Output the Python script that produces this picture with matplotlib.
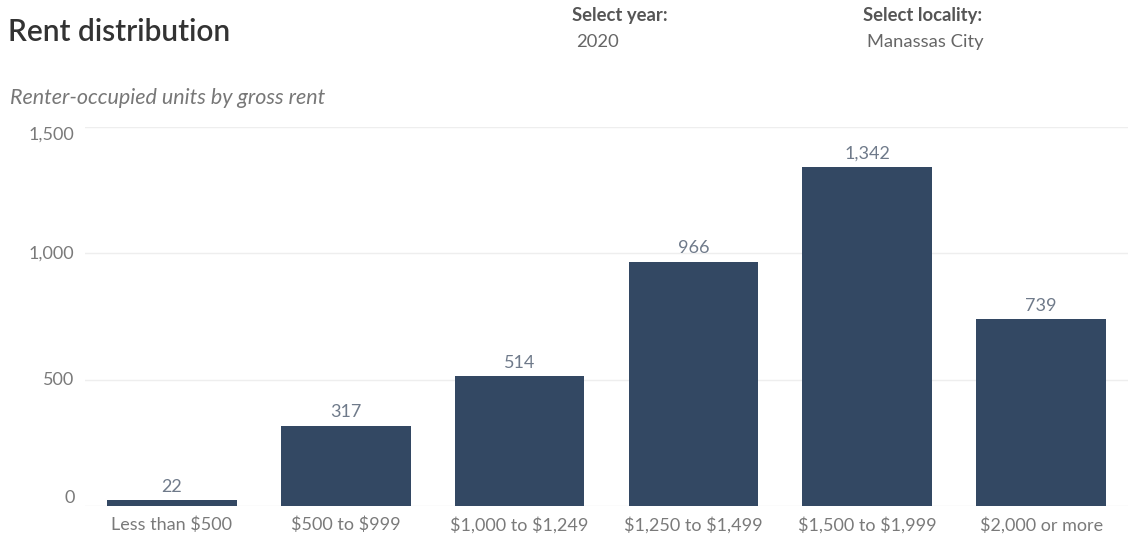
import matplotlib.pyplot as plt
from matplotlib.ticker import FuncFormatter

# rent brackets and renter-occupied unit counts
categories = ["Less than $500", "$500 to $999", "$1,000 to $1,249",
              "$1,250 to $1,499", "$1,500 to $1,999", "$2,000 or more"]
units = [22, 317, 514, 966, 1342, 739]
yticks = [0, 500, 1000, 1500]

plt.rcParams['font.family'] = ['Lato', 'DejaVu Sans']
plt.rcParams['text.parse_math'] = False

bar_color = "#334863"
label_gray = "#7a7a7a"

fig = plt.figure(figsize=(11.28, 5.38), dpi=100)
ax = fig.add_axes([85 / 1128, 1 - 506 / 538, 1 - 85 / 1128, (506 - 127) / 538])

x = list(range(len(categories)))
bars = ax.bar(x, units, width=0.745, color=bar_color, zorder=3)

for b, v in zip(bars, units):
    ax.text(b.get_x() + b.get_width() / 2, v + 22, f"{v:,}",
            ha="center", va="bottom", fontsize=13, color="#6f7a8a")

ax.set_xlim(-0.5, 5.5)
ax.set_ylim(0, 1500)
ax.set_xticks(x)
ax.set_xticklabels(categories, fontsize=13, color=label_gray)
ax.set_yticks(yticks)
ax.yaxis.set_major_formatter(FuncFormatter(lambda v, p: f"{int(v):,}"))
ax.tick_params(axis="both", length=0)
ax.tick_params(axis="y", labelsize=13, labelcolor=label_gray, pad=7.5)
ax.tick_params(axis="x", pad=7.5)
for lbl, va in zip(ax.get_yticklabels(), ["bottom", "center", "center", "top"]):
    lbl.set_va(va)

ax.grid(axis="y", color="#eeeeee", linewidth=1, zorder=0)
for s in ax.spines.values():
    s.set_visible(False)

# header texts
fig.text(8 / 1128, 1 - 32 / 538, "Rent distribution", fontsize=21.5,
         color="#333333", va="center", weight="semibold")
fig.text(10 / 1128, 1 - 98 / 538, "Renter-occupied units by gross rent",
         fontsize=15.5, style="italic", color="#777777", va="center")
fig.text(572 / 1128, 1 - 15 / 538, "Select year:", fontsize=13.3,
         weight="bold", color="#555555", va="center")
fig.text(576 / 1128, 1 - 42 / 538, "2020", fontsize=13.2,
         color="#666666", va="center")
fig.text(863 / 1128, 1 - 15 / 538, "Select locality:", fontsize=13.3,
         weight="bold", color="#555555", va="center")
fig.text(867 / 1128, 1 - 42 / 538, "Manassas City", fontsize=13.2,
         color="#666666", va="center")

fig.savefig("out.png", dpi=100)
